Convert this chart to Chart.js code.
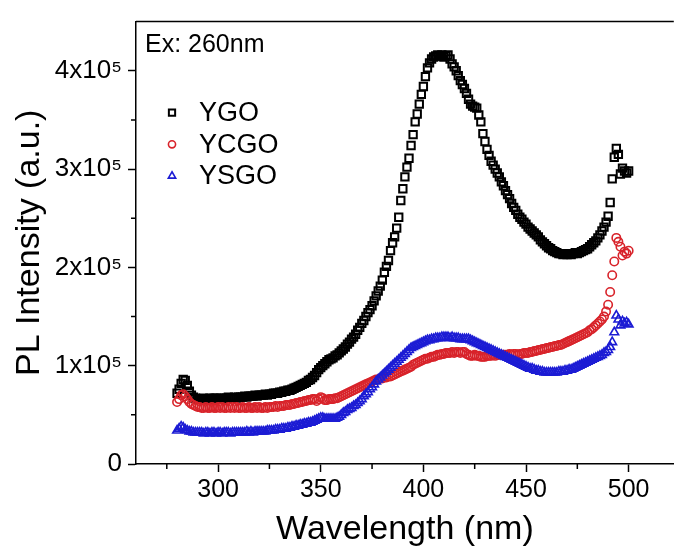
<!DOCTYPE html>
<html>
<head>
<meta charset="utf-8">
<script src="https://cdn.jsdelivr.net/npm/chart.js@4.4.1/dist/chart.umd.min.js"></script>
<style>
    html, body { margin: 0; padding: 0; background: #fff; }
</style>
</head>
<body>
<canvas id="canvasChart" width="681" height="550"></canvas>
<script>
// emission wavelength (nm)
var wavelength = [
    280, 281, 282, 283, 284, 285, 286, 287, 288, 289,
    290, 291, 292, 293, 294, 295, 296, 297, 298, 299,
    300, 301, 302, 303, 304, 305, 306, 307, 308, 309,
    310, 311, 312, 313, 314, 315, 316, 317, 318, 319,
    320, 321, 322, 323, 324, 325, 326, 327, 328, 329,
    330, 331, 332, 333, 334, 335, 336, 337, 338, 339,
    340, 341, 342, 343, 344, 345, 346, 347, 348, 349,
    350, 351, 352, 353, 354, 355, 356, 357, 358, 359,
    360, 361, 362, 363, 364, 365, 366, 367, 368, 369,
    370, 371, 372, 373, 374, 375, 376, 377, 378, 379,
    380, 381, 382, 383, 384, 385, 386, 387, 388, 389,
    390, 391, 392, 393, 394, 395, 396, 397, 398, 399,
    400, 401, 402, 403, 404, 405, 406, 407, 408, 409,
    410, 411, 412, 413, 414, 415, 416, 417, 418, 419,
    420, 421, 422, 423, 424, 425, 426, 427, 428, 429,
    430, 431, 432, 433, 434, 435, 436, 437, 438, 439,
    440, 441, 442, 443, 444, 445, 446, 447, 448, 449,
    450, 451, 452, 453, 454, 455, 456, 457, 458, 459,
    460, 461, 462, 463, 464, 465, 466, 467, 468, 469,
    470, 471, 472, 473, 474, 475, 476, 477, 478, 479,
    480, 481, 482, 483, 484, 485, 486, 487, 488, 489,
    490, 491, 492, 493, 494, 495, 496, 497, 498, 499,
    500
];

// PL intensity, in units of 1x10^5
var ygo = [
    0.72, 0.76, 0.82, 0.86, 0.85, 0.80, 0.74, 0.70, 0.68, 0.67,
    0.66, 0.66, 0.66, 0.67, 0.66, 0.66, 0.67, 0.66, 0.67, 0.67,
    0.66, 0.67, 0.66, 0.67, 0.67, 0.68, 0.67, 0.67, 0.68, 0.67,
    0.68, 0.68, 0.68, 0.69, 0.68, 0.69, 0.69, 0.69, 0.70, 0.69,
    0.70, 0.70, 0.70, 0.71, 0.70, 0.71, 0.71, 0.72, 0.72, 0.72,
    0.73, 0.73, 0.74, 0.74, 0.75, 0.75, 0.76, 0.77, 0.78, 0.79,
    0.80, 0.81, 0.82, 0.83, 0.85, 0.86, 0.88, 0.90, 0.93, 0.96,
    0.98, 1.00, 1.02, 1.04, 1.06, 1.07, 1.08, 1.10, 1.11, 1.13,
    1.15, 1.17, 1.19, 1.22, 1.24, 1.27, 1.29, 1.32, 1.36, 1.39,
    1.43, 1.46, 1.50, 1.54, 1.57, 1.61, 1.66, 1.71, 1.76, 1.81,
    1.87, 1.95, 2.01, 2.07, 2.17, 2.25, 2.31, 2.40, 2.51, 2.68,
    2.80, 2.92, 3.02, 3.11, 3.24, 3.35, 3.48, 3.56, 3.66, 3.76,
    3.84, 3.94, 4.03, 4.08, 4.12, 4.14, 4.15, 4.16, 4.15, 4.16,
    4.14, 4.15, 4.16, 4.12, 4.07, 4.04, 4.00, 3.95, 3.90, 3.86,
    3.82, 3.77, 3.71, 3.66, 3.64, 3.63, 3.62, 3.55, 3.48, 3.36,
    3.28, 3.20, 3.14, 3.08, 3.04, 3.00, 2.96, 2.92, 2.87, 2.83,
    2.78, 2.74, 2.70, 2.65, 2.61, 2.58, 2.54, 2.51, 2.49, 2.46,
    2.44, 2.41, 2.39, 2.37, 2.35, 2.33, 2.31, 2.28, 2.26, 2.24,
    2.22, 2.20, 2.19, 2.17, 2.16, 2.15, 2.14, 2.14, 2.13, 2.14,
    2.13, 2.14, 2.13, 2.14, 2.15, 2.14, 2.15, 2.16, 2.17, 2.18,
    2.19, 2.21, 2.23, 2.25, 2.27, 2.30, 2.33, 2.37, 2.41, 2.46,
    2.52, 2.66, 2.90, 3.12, 3.21, 3.15, 2.95, 3.01, 2.98, 2.96,
    2.98
];

var ycgo = [
    0.63, 0.66, 0.70, 0.71, 0.69, 0.66, 0.63, 0.61, 0.60, 0.59,
    0.58, 0.58, 0.57, 0.57, 0.58, 0.57, 0.57, 0.58, 0.57, 0.57,
    0.58, 0.57, 0.58, 0.57, 0.57, 0.58, 0.57, 0.58, 0.57, 0.58,
    0.57, 0.57, 0.58, 0.57, 0.57, 0.58, 0.57, 0.57, 0.58, 0.57,
    0.58, 0.57, 0.57, 0.58, 0.57, 0.58, 0.58, 0.58, 0.59, 0.58,
    0.59, 0.59, 0.59, 0.60, 0.60, 0.60, 0.61, 0.61, 0.62, 0.62,
    0.63, 0.63, 0.64, 0.64, 0.65, 0.65, 0.66, 0.66, 0.64, 0.66,
    0.68, 0.67, 0.65, 0.65, 0.66, 0.66, 0.66, 0.67, 0.67, 0.68,
    0.69, 0.70, 0.71, 0.72, 0.73, 0.74, 0.75, 0.76, 0.77, 0.78,
    0.79, 0.80, 0.81, 0.82, 0.83, 0.84, 0.85, 0.86, 0.86, 0.87,
    0.87, 0.88, 0.88, 0.89, 0.89, 0.90, 0.91, 0.92, 0.93, 0.94,
    0.95, 0.96, 0.97, 0.98, 0.99, 1.01, 1.02, 1.03, 1.04, 1.05,
    1.06, 1.07, 1.07, 1.08, 1.09, 1.09, 1.10, 1.11, 1.11, 1.12,
    1.12, 1.13, 1.13, 1.13, 1.14, 1.13, 1.14, 1.14, 1.13, 1.14,
    1.14, 1.12, 1.11, 1.10, 1.10, 1.11, 1.10, 1.10, 1.09, 1.09,
    1.09, 1.10, 1.10, 1.10, 1.11, 1.10, 1.11, 1.11, 1.11, 1.11,
    1.11, 1.11, 1.12, 1.11, 1.12, 1.12, 1.11, 1.12, 1.12, 1.13,
    1.13, 1.13, 1.14, 1.14, 1.15, 1.15, 1.16, 1.16, 1.17, 1.17,
    1.18, 1.18, 1.19, 1.19, 1.20, 1.20, 1.21, 1.21, 1.22, 1.23,
    1.24, 1.25, 1.26, 1.27, 1.28, 1.29, 1.30, 1.31, 1.32, 1.33,
    1.34, 1.36, 1.37, 1.39, 1.41, 1.43, 1.45, 1.47, 1.50, 1.55,
    1.62, 1.75, 1.92, 2.06, 2.30, 2.26, 2.21, 2.12, 2.16, 2.14,
    2.17
];

var ysgo = [
    0.34, 0.36, 0.38, 0.37, 0.35, 0.34, 0.33, 0.33, 0.32, 0.32,
    0.32, 0.32, 0.32, 0.31, 0.32, 0.32, 0.31, 0.32, 0.32, 0.31,
    0.32, 0.32, 0.31, 0.32, 0.32, 0.32, 0.31, 0.32, 0.32, 0.32,
    0.32, 0.32, 0.32, 0.32, 0.33, 0.32, 0.33, 0.32, 0.33, 0.33,
    0.33, 0.33, 0.33, 0.33, 0.34, 0.34, 0.34, 0.34, 0.35, 0.35,
    0.35, 0.36, 0.36, 0.36, 0.37, 0.37, 0.38, 0.38, 0.39, 0.39,
    0.40, 0.40, 0.41, 0.41, 0.42, 0.42, 0.43, 0.44, 0.45, 0.46,
    0.47, 0.47, 0.46, 0.46, 0.46, 0.46, 0.46, 0.46, 0.47, 0.48,
    0.50, 0.52, 0.53, 0.55, 0.56, 0.57, 0.59, 0.60, 0.62, 0.64,
    0.66, 0.69, 0.71, 0.73, 0.76, 0.78, 0.81, 0.84, 0.86, 0.88,
    0.90, 0.92, 0.94, 0.96, 0.98, 1.00, 1.02, 1.04, 1.06, 1.08,
    1.10, 1.12, 1.14, 1.16, 1.18, 1.19, 1.20, 1.21, 1.22, 1.23,
    1.24, 1.25, 1.26, 1.26, 1.27, 1.27, 1.28, 1.28, 1.28, 1.29,
    1.29, 1.29, 1.29, 1.28, 1.29, 1.28, 1.28, 1.28, 1.27, 1.27,
    1.27, 1.27, 1.27, 1.26, 1.25, 1.24, 1.23, 1.22, 1.21, 1.20,
    1.19, 1.18, 1.17, 1.16, 1.15, 1.14, 1.13, 1.12, 1.11, 1.10,
    1.09, 1.08, 1.07, 1.06, 1.05, 1.04, 1.03, 1.02, 1.01, 1.00,
    0.99, 0.98, 0.97, 0.97, 0.96, 0.95, 0.95, 0.94, 0.94, 0.93,
    0.93, 0.93, 0.93, 0.93, 0.93, 0.93, 0.94, 0.94, 0.94, 0.95,
    0.95, 0.96, 0.96, 0.97, 0.98, 0.99, 1.00, 1.01, 1.02, 1.03,
    1.04, 1.05, 1.06, 1.07, 1.08, 1.09, 1.10, 1.11, 1.13, 1.14,
    1.16, 1.19, 1.24, 1.34, 1.51, 1.47, 1.41, 1.45, 1.43, 1.44,
    1.42
];

var seriesNames = ["YGO", "YCGO", "YSGO"];
var noteText = "Ex: 260nm";
var xTicks = [300, 350, 400, 450, 500];
var xMinorTicks = [275, 325, 375, 425, 475];
var yTicks = [0, 1, 2, 3, 4];
var yMinorTicks = [0.5, 1.5, 2.5, 3.5];

var fontFamily = '"Liberation Sans", Arial, sans-serif';

function toPoints(values) {
    return values.map(function (v, i) {
        return { x: wavelength[i], y: v };
    });
}

// frame top line, minor ticks, excitation note and legend
var decorPlugin = {
    id: 'decor',
    afterDraw: function (chart) {
        var ctx = chart.ctx;
        var area = chart.chartArea;
        var xs = chart.scales.x;
        var ys = chart.scales.y;
        ctx.save();
        ctx.strokeStyle = '#000';
        ctx.lineWidth = 1.5;
        ctx.beginPath();
        ctx.moveTo(area.left, area.top);
        ctx.lineTo(area.right, area.top);
        xMinorTicks.forEach(function (v) {
            var px = xs.getPixelForValue(v);
            ctx.moveTo(px, area.bottom);
            ctx.lineTo(px, area.bottom + 5);
        });
        yMinorTicks.forEach(function (v) {
            var py = ys.getPixelForValue(v);
            ctx.moveTo(area.left, py);
            ctx.lineTo(area.left - 5, py);
        });
        ctx.stroke();

        ctx.fillStyle = '#000';
        ctx.textBaseline = 'middle';
        ctx.textAlign = 'left';
        ctx.font = '25px ' + fontFamily;
        ctx.fillText(noteText, area.left + 9, area.top + 24);

        ctx.font = '27px ' + fontFamily;
        chart.data.datasets.forEach(function (ds, i) {
            var y = area.top + 91 + i * 31.7;
            ctx.strokeStyle = ds.borderColor;
            ctx.fillStyle = 'rgba(0,0,0,0)';
            ctx.lineWidth = ds.pointBorderWidth;
            Chart.helpers.drawPoint(ctx, {
                pointStyle: ds.pointStyle,
                radius: ds.pointRadius * 0.85,
                borderWidth: ds.pointBorderWidth
            }, area.left + 36, y);
            ctx.fillStyle = '#000';
            ctx.fillText(ds.label, area.left + 63, y + 1);
        });
        ctx.restore();
    }
};

var canvas = document.getElementById("canvasChart").getContext('2d');

var chartConfig = {
    type: 'scatter',
    data: {
        datasets: [{
            label: seriesNames[0],
            data: toPoints(ygo),
            pointStyle: 'rect',
            pointRadius: 5.2,
            pointBorderWidth: 2,
            borderColor: '#000000',
            backgroundColor: 'rgba(0,0,0,0)',
            order: 3
        }, {
            label: seriesNames[1],
            data: toPoints(ycgo),
            pointStyle: 'circle',
            pointRadius: 4.2,
            pointBorderWidth: 1.6,
            borderColor: '#d8232a',
            backgroundColor: 'rgba(0,0,0,0)',
            order: 2
        }, {
            label: seriesNames[2],
            data: toPoints(ysgo),
            pointStyle: 'triangle',
            pointRadius: 5,
            pointBorderWidth: 1.6,
            borderColor: '#1c1cd4',
            backgroundColor: 'rgba(0,0,0,0)',
            order: 1
        }]
    },
    options: {
        responsive: false,
        animation: false,
        layout: {
            padding: { top: 14, right: 0, bottom: 0, left: 0 }
        },
        plugins: {
            legend: { display: false },
            tooltip: { enabled: false }
        },
        scales: {
            x: {
                type: 'linear',
                min: 260,
                max: 522,
                afterBuildTicks: function (scale) {
                    scale.ticks = xTicks.map(function (v) { return { value: v }; });
                },
                afterFit: function (scale) { scale.height = 86; },
                ticks: {
                    autoSkip: false,
                    maxRotation: 0,
                    padding: 3,
                    color: '#000',
                    font: { family: fontFamily, size: 25 }
                },
                grid: {
                    drawOnChartArea: false,
                    tickLength: 8,
                    tickWidth: 1.5,
                    tickColor: '#000'
                },
                border: { color: '#000', width: 1.5 },
                title: {
                    display: true,
                    text: 'Wavelength (nm)',
                    color: '#000',
                    font: { family: fontFamily, size: 34 },
                    padding: { top: 0, bottom: 0 }
                }
            },
            y: {
                min: 0,
                max: 4.5,
                afterBuildTicks: function (scale) {
                    scale.ticks = yTicks.map(function (v) { return { value: v }; });
                },
                afterFit: function (scale) { scale.width = 136; },
                ticks: {
                    padding: 6,
                    color: '#000',
                    font: { family: fontFamily, size: 26 },
                    callback: function (v) { return v === 0 ? '0' : v + 'x10\u2075'; }
                },
                grid: {
                    drawOnChartArea: false,
                    tickLength: 8,
                    tickWidth: 1.5,
                    tickColor: '#000'
                },
                border: { color: '#000', width: 1.5 },
                title: {
                    display: true,
                    text: 'PL Intensity (a.u.)',
                    color: '#000',
                    font: { family: fontFamily, size: 34 },
                    padding: { top: 9, bottom: 0 }
                }
            }
        }
    },
    plugins: [decorPlugin]
};

var chartObject = new Chart(canvas, chartConfig);
</script>
</body>
</html>
